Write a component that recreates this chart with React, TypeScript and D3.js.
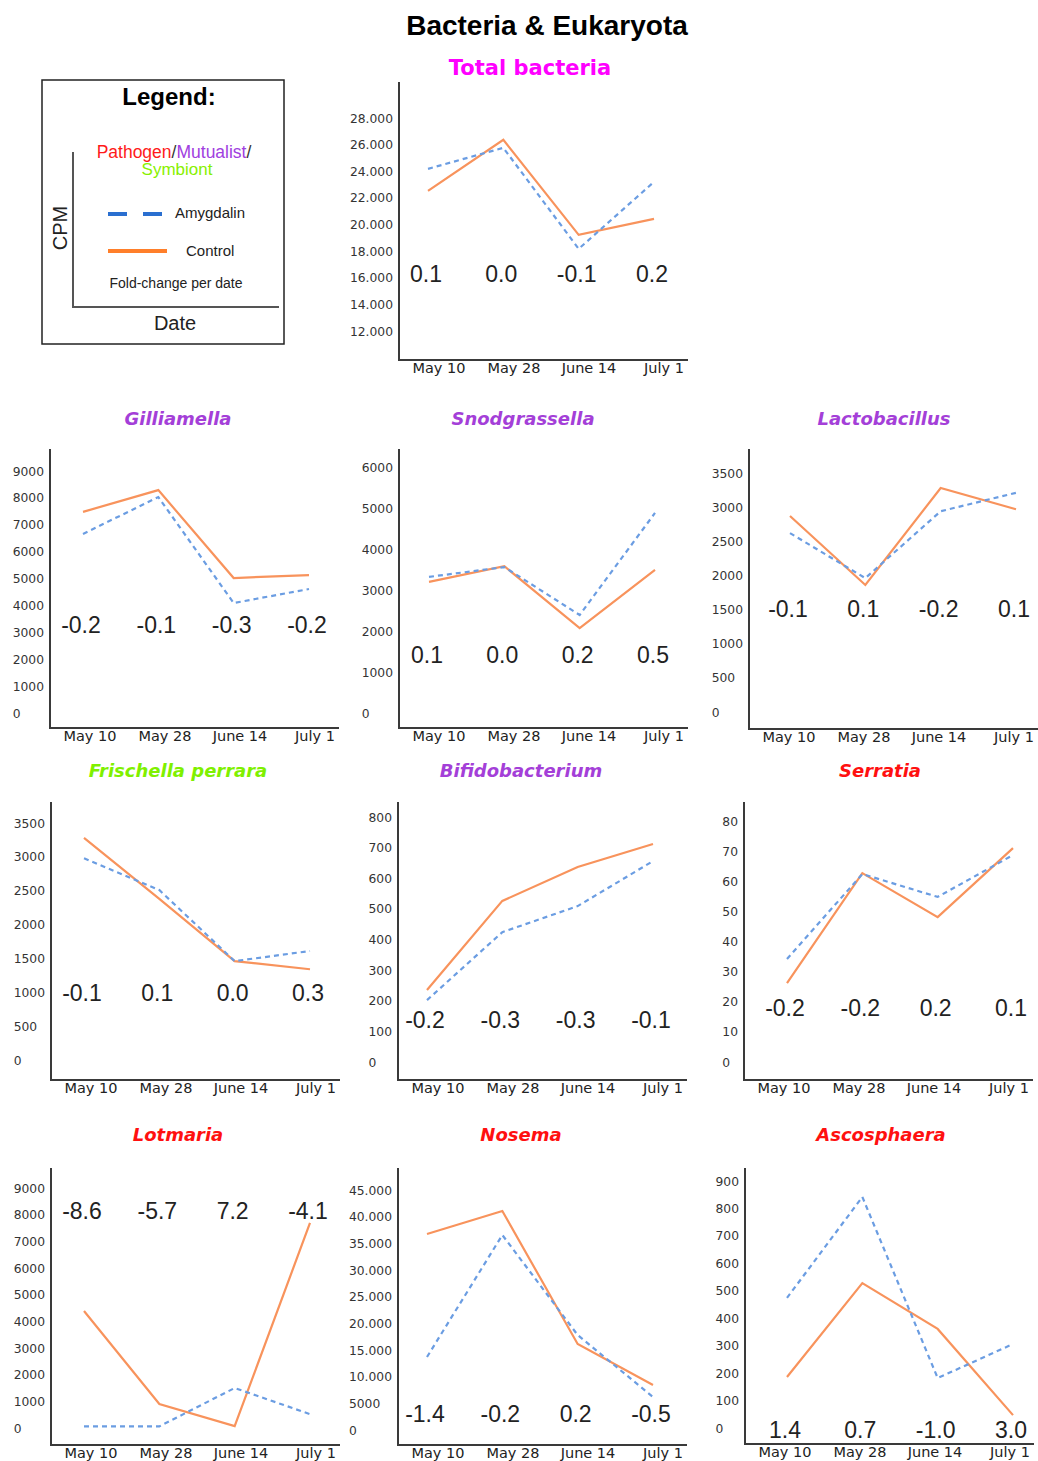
import React, { useEffect, useRef } from "react";
import * as d3 from "d3";

const dates = ["May 10", "May 28", "June 14", "July 1"];

// Total bacteria
const totalAmygdalin = [24180, 25760, 18170, 23200];
const totalControl = [22530, 26360, 19220, 20420];
const totalFold = ["0.1", "0.0", "-0.1", "0.2"];
const totalTicks = [12000, 14000, 16000, 18000, 20000, 22000, 24000, 26000, 28000];

// Gilliamella
const gilliAmygdalin = [6660, 8030, 4090, 4610];
const gilliControl = [7480, 8290, 5020, 5130];
const gilliFold = ["-0.2", "-0.1", "-0.3", "-0.2"];
const gilliTicks = [0, 1000, 2000, 3000, 4000, 5000, 6000, 7000, 8000, 9000];

// Snodgrassella
const snodAmygdalin = [3320, 3560, 2390, 4880];
const snodControl = [3200, 3580, 2070, 3490];
const snodFold = ["0.1", "0.0", "0.2", "0.5"];
const snodTicks = [0, 1000, 2000, 3000, 4000, 5000, 6000];

// Lactobacillus
const lactoAmygdalin = [2620, 1960, 2940, 3210];
const lactoControl = [2870, 1860, 3280, 2970];
const lactoFold = ["-0.1", "0.1", "-0.2", "0.1"];
const lactoTicks = [0, 500, 1000, 1500, 2000, 2500, 3000, 3500];

// Frischella perrara
const frischAmygdalin = [2980, 2510, 1460, 1610];
const frischControl = [3280, 2380, 1460, 1340];
const frischFold = ["-0.1", "0.1", "0.0", "0.3"];
const frischTicks = [0, 500, 1000, 1500, 2000, 2500, 3000, 3500];

// Bifidobacterium
const bifidoAmygdalin = [202, 424, 509, 656];
const bifidoControl = [235, 526, 637, 712];
const bifidoFold = ["-0.2", "-0.3", "-0.3", "-0.1"];
const bifidoTicks = [0, 100, 200, 300, 400, 500, 600, 700, 800];

// Serratia
const serratiaAmygdalin = [34.2, 62.4, 54.8, 68.7];
const serratiaControl = [26.2, 62.7, 48.1, 71.0];
const serratiaFold = ["-0.2", "-0.2", "0.2", "0.1"];
const serratiaTicks = [0, 10, 20, 30, 40, 50, 60, 70, 80];

// Lotmaria
const lotmariaAmygdalin = [60, 60, 1500, 520];
const lotmariaControl = [4390, 900, 70, 7690];
const lotmariaFold = ["-8.6", "-5.7", "7.2", "-4.1"];
const lotmariaTicks = [0, 1000, 2000, 3000, 4000, 5000, 6000, 7000, 8000, 9000];

// Nosema
const nosemaAmygdalin = [13690, 36560, 17810, 6190];
const nosemaControl = [36750, 41060, 16130, 8440];
const nosemaFold = ["-1.4", "-0.2", "0.2", "-0.5"];
const nosemaTicks = [0, 5000, 10000, 15000, 20000, 25000, 30000, 35000, 40000, 45000];

// Ascosphaera
const ascoAmygdalin = [474, 842, 182, 306];
const ascoControl = [186, 528, 361, 47];
const ascoFold = ["1.4", "0.7", "-1.0", "3.0"];
const ascoTicks = [0, 100, 200, 300, 400, 500, 600, 700, 800, 900];

const PURPLE = "#a43fd8";
const GREEN = "#7ff000";
const RED = "#ff1010";
const MAGENTA = "#ff00ff";
const ORANGE = "#f8935c";
const BLUE = "#6b9de2";

const panels = [
  { title: "Total bacteria", color: MAGENTA, italic: false, titleX: 530, titleY: 75, axisX: 399, top: 82, bottom: 360, y0: 331, y1: 118, foldY: 282, off: 29, amy: totalAmygdalin, ctl: totalControl, fold: totalFold, ticks: totalTicks },
  { title: "Gilliamella", color: PURPLE, italic: true, titleX: 178, titleY: 425, axisX: 50, top: 449, bottom: 728, y0: 713, y1: 471, foldY: 633, off: 33, amy: gilliAmygdalin, ctl: gilliControl, fold: gilliFold, ticks: gilliTicks },
  { title: "Snodgrassella", color: PURPLE, italic: true, titleX: 523, titleY: 425, axisX: 399, top: 449, bottom: 728, y0: 713, y1: 467, foldY: 663, off: 30, amy: snodAmygdalin, ctl: snodControl, fold: snodFold, ticks: snodTicks },
  { title: "Lactobacillus", color: PURPLE, italic: true, titleX: 884, titleY: 425, axisX: 749, top: 449, bottom: 729, y0: 712, y1: 473, foldY: 617, off: 41, amy: lactoAmygdalin, ctl: lactoControl, fold: lactoFold, ticks: lactoTicks },
  { title: "Frischella perrara", color: GREEN, italic: true, titleX: 178, titleY: 777, axisX: 51, top: 802, bottom: 1080, y0: 1060, y1: 823, foldY: 1001, off: 33, amy: frischAmygdalin, ctl: frischControl, fold: frischFold, ticks: frischTicks },
  { title: "Bifidobacterium", color: PURPLE, italic: true, titleX: 521, titleY: 777, axisX: 398, top: 802, bottom: 1080, y0: 1062, y1: 817, foldY: 1028, off: 29, amy: bifidoAmygdalin, ctl: bifidoControl, fold: bifidoFold, ticks: bifidoTicks },
  { title: "Serratia", color: RED, italic: true, titleX: 880, titleY: 777, axisX: 744, top: 802, bottom: 1080, y0: 1062, y1: 821, foldY: 1016, off: 43, amy: serratiaAmygdalin, ctl: serratiaControl, fold: serratiaFold, ticks: serratiaTicks },
  { title: "Lotmaria", color: RED, italic: true, titleX: 178, titleY: 1141, axisX: 51, top: 1168, bottom: 1445, y0: 1428, y1: 1188, foldY: 1219, off: 33, amy: lotmariaAmygdalin, ctl: lotmariaControl, fold: lotmariaFold, ticks: lotmariaTicks },
  { title: "Nosema", color: RED, italic: true, titleX: 521, titleY: 1141, axisX: 398, top: 1168, bottom: 1445, y0: 1430, y1: 1190, foldY: 1422, off: 29, amy: nosemaAmygdalin, ctl: nosemaControl, fold: nosemaFold, ticks: nosemaTicks },
  { title: "Ascosphaera", color: RED, italic: true, titleX: 881, titleY: 1141, axisX: 745, top: 1168, bottom: 1444, y0: 1428, y1: 1181, foldY: 1438, off: 42, amy: ascoAmygdalin, ctl: ascoControl, fold: ascoFold, ticks: ascoTicks },
];

const fmtTick = (v: number) => (v >= 10000 ? d3.format(",")(v).replace(/,/g, ".") : String(v));

const SANS = "'Liberation Sans', Arial, sans-serif";
const VERD = "'DejaVu Sans', Verdana, sans-serif";

export default function App() {
  const ref = useRef<SVGSVGElement | null>(null);

  useEffect(() => {
    const svg = d3.select(ref.current);
    svg.selectAll("*").remove();

    svg.append("rect").attr("width", 1038).attr("height", 1461).attr("fill", "#fff");

    svg.append("text").attr("x", 547).attr("y", 35).attr("text-anchor", "middle")
      .attr("font-family", SANS).attr("font-weight", "bold").attr("font-size", 28).attr("fill", "#000")
      .text("Bacteria & Eukaryota");

    // Legend
    const lg = svg.append("g");
    lg.append("rect").attr("x", 42).attr("y", 80).attr("width", 242).attr("height", 264)
      .attr("fill", "none").attr("stroke", "#222").attr("stroke-width", 1.5);
    lg.append("text").attr("x", 169).attr("y", 105).attr("text-anchor", "middle")
      .attr("font-family", SANS).attr("font-weight", "bold").attr("font-size", 24).attr("fill", "#000").text("Legend:");
    const t1 = lg.append("text").attr("x", 174).attr("y", 158).attr("text-anchor", "middle")
      .attr("font-family", SANS).attr("font-size", 17.5);
    t1.append("tspan").attr("fill", "#ff1a1a").text("Pathogen");
    t1.append("tspan").attr("fill", "#333").text("/");
    t1.append("tspan").attr("fill", "#a040e0").text("Mutualist");
    t1.append("tspan").attr("fill", "#333").text("/");
    lg.append("text").attr("x", 177).attr("y", 175).attr("text-anchor", "middle")
      .attr("font-family", SANS).attr("font-size", 17).attr("fill", "#88f000").text("Symbiont");
    lg.append("path").attr("d", "M73,152V307H279").attr("fill", "none").attr("stroke", "#555").attr("stroke-width", 2);
    lg.append("text").attr("transform", "translate(67,228) rotate(-90)").attr("text-anchor", "middle")
      .attr("font-family", SANS).attr("font-size", 20).attr("fill", "#222").text("CPM");
    lg.append("text").attr("x", 175).attr("y", 330).attr("text-anchor", "middle")
      .attr("font-family", SANS).attr("font-size", 20).attr("fill", "#222").text("Date");
    lg.append("line").attr("x1", 108).attr("x2", 162).attr("y1", 214).attr("y2", 214)
      .attr("stroke", "#2a6fd0").attr("stroke-width", 4).attr("stroke-dasharray", "19,16");
    lg.append("text").attr("x", 175).attr("y", 218).attr("font-family", SANS).attr("font-size", 15).attr("fill", "#222").text("Amygdalin");
    lg.append("line").attr("x1", 108).attr("x2", 167).attr("y1", 251).attr("y2", 251)
      .attr("stroke", "#ff7f2a").attr("stroke-width", 4);
    lg.append("text").attr("x", 186).attr("y", 256).attr("font-family", SANS).attr("font-size", 15).attr("fill", "#222").text("Control");
    lg.append("text").attr("x", 176).attr("y", 288).attr("text-anchor", "middle").attr("font-family", SANS)
      .attr("font-size", 14).attr("fill", "#222").text("Fold-change per date");

    panels.forEach((p) => {
      const g = svg.append("g");
      g.append("text").attr("x", p.titleX).attr("y", p.titleY).attr("text-anchor", "middle")
        .attr("font-family", VERD).attr("font-weight", "bold").attr("font-style", p.italic ? "italic" : "normal")
        .attr("font-size", p.italic ? 18 : 21).attr("fill", p.color).text(p.title);

      const y = d3.scaleLinear().domain([p.ticks[0], p.ticks[p.ticks.length - 1]]).range([p.y0, p.y1]);
      const xd = d3.scalePoint<string>().domain(dates).range([p.axisX + p.off, p.axisX + p.off + 226]);
      const xl = d3.scalePoint<string>().domain(dates).range([p.axisX + 40, p.axisX + 265]);

      // y tick labels, left aligned
      const tg = g.append("g");
      const texts = tg.selectAll("text").data(p.ticks).enter().append("text")
        .attr("y", (d) => y(d) + 4.5).attr("font-family", VERD).attr("font-size", 12.3).attr("fill", "#333")
        .text((d) => fmtTick(d));
      let maxW = 0;
      texts.each(function () {
        const w = (this as SVGTextElement).getComputedTextLength();
        if (w > maxW) maxW = w;
      });
      texts.attr("x", p.axisX - 6 - maxW);

      // x labels
      g.selectAll("text.xl").data(dates).enter().append("text").attr("class", "xl")
        .attr("x", (d) => xl(d)!).attr("y", p.bottom + 13).attr("text-anchor", "middle")
        .attr("font-family", VERD).attr("font-size", 14.5).attr("fill", "#222").text((d) => d);

      // axes
      g.append("path").attr("d", `M${p.axisX},${p.top}V${p.bottom}H${p.axisX + 289}`)
        .attr("fill", "none").attr("stroke", "#3a3a3a").attr("stroke-width", 2);

      const line = d3.line<number>().x((_, i) => xd(dates[i])!).y((d) => y(d));
      g.append("path").attr("d", line(p.ctl)!).attr("fill", "none").attr("stroke", ORANGE).attr("stroke-width", 2.2);
      g.append("path").attr("d", line(p.amy)!).attr("fill", "none").attr("stroke", BLUE).attr("stroke-width", 2.2)
        .attr("stroke-dasharray", "5,4");

      g.selectAll("text.fc").data(p.fold).enter().append("text").attr("class", "fc")
        .attr("x", (_, i) => xd(dates[i])! - 2).attr("y", p.foldY).attr("text-anchor", "middle")
        .attr("font-family", SANS).attr("font-size", 23).attr("fill", "#222").text((d) => d);
    });
  }, []);

  return (
    <svg ref={ref} width={1038} height={1461}
      style={{ position: "absolute", left: 0, top: 0, display: "block" }} />
  );
}
